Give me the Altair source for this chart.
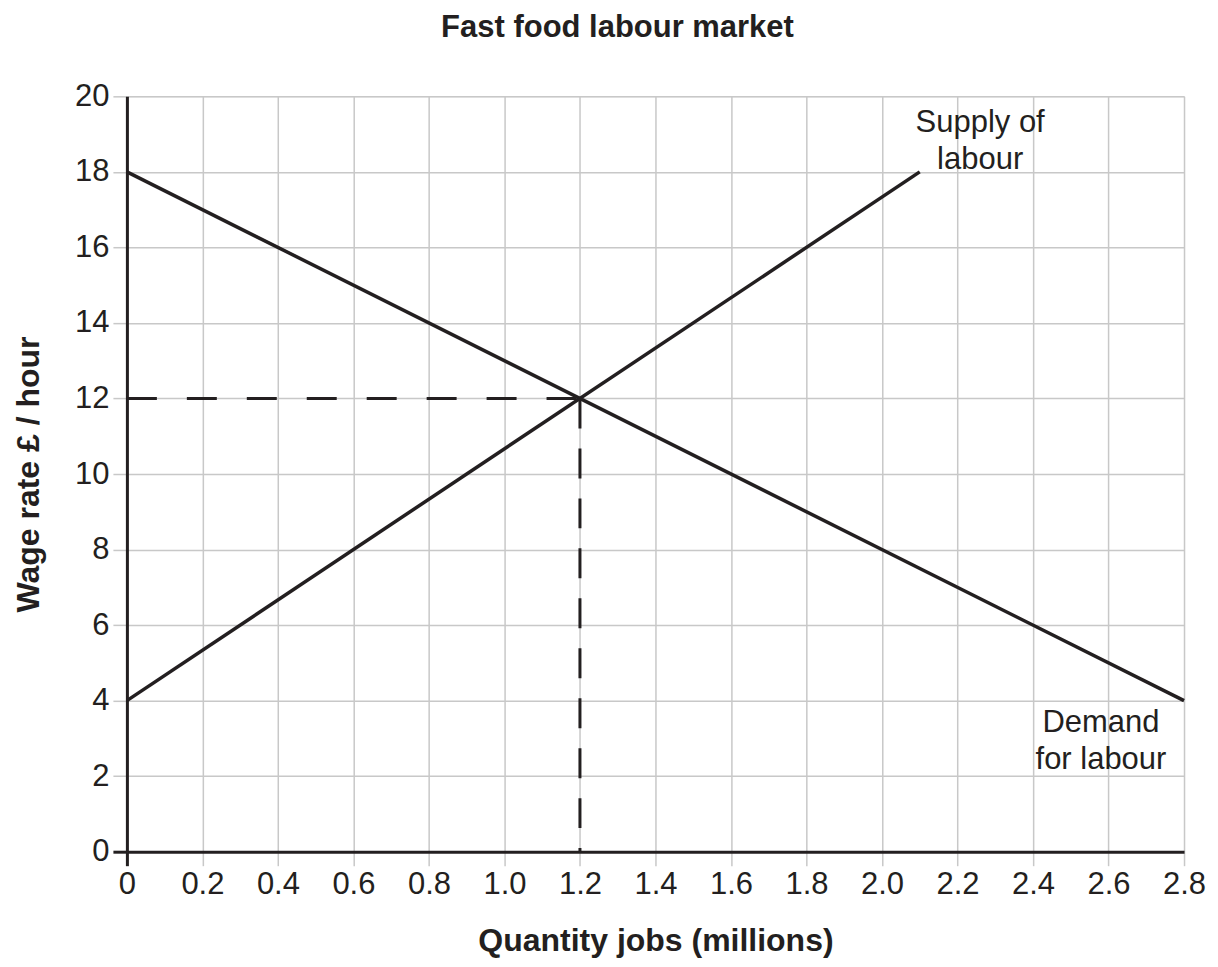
import altair as alt
import pandas as pd

# Data
supply_q = [0.0, 2.1]
supply_w = [4, 18]
demand_q = [0.0, 2.8]
demand_w = [18, 4]
eq_q = 1.2
eq_w = 12
x_ticks = [0, 0.2, 0.4, 0.6, 0.8, 1.0, 1.2, 1.4, 1.6, 1.8, 2.0, 2.2, 2.4, 2.6, 2.8]
y_ticks = [0, 2, 4, 6, 8, 10, 12, 14, 16, 18, 20]
labels = ["Supply of\nlabour", "Demand\nfor labour"]
label_q = [2.26, 2.58]
label_w = [19.05, 3.17]

INK = "#231f20"
GRID = "#c8c8c8"
FONT = "Liberation Sans"

lines_df = pd.DataFrame({
    "q": supply_q + demand_q,
    "w": supply_w + demand_w,
    "curve": ["Supply", "Supply", "Demand", "Demand"],
})
h_df = pd.DataFrame({"q": [0.0], "q2": [eq_q], "w": [eq_w]})
v_df = pd.DataFrame({"q": [eq_q], "w": [0], "w2": [eq_w]})
lab_df = pd.DataFrame({"q": label_q, "w": label_w, "t": labels})

xscale = alt.Scale(domain=[0, 2.8], nice=False, zero=False)
yscale = alt.Scale(domain=[0, 20], nice=False, zero=False)

tick_color = {"condition": {"test": "datum.value === 0", "value": INK}, "value": GRID}
tick_width = {"condition": {"test": "datum.value === 0", "value": 3}, "value": 1.5}

xaxis = alt.Axis(
    values=x_ticks,
    labelExpr="datum.value === 0 ? '0' : format(datum.value, '.1f')",
    title="Quantity jobs (millions)", titleFontWeight="bold", titleFontSize=32,
    titleFont=FONT, titleColor=INK, titlePadding=26,
    labelFont=FONT, labelFontSize=31, labelColor=INK, labelPadding=4,
    labelFlush=False, labelOverlap=False, labelBound=False,
    tickSize=14, tickColor=tick_color, tickWidth=tick_width,
    domainColor=INK, domainWidth=3,
    grid=True, gridColor=GRID, gridWidth=1.5,
)
yaxis = alt.Axis(
    values=y_ticks,
    title="Wage rate £ / hour", titleFontWeight="bold", titleFontSize=32,
    titleFont=FONT, titleColor=INK, titlePadding=29,
    labelFont=FONT, labelFontSize=31, labelColor=INK, labelPadding=4,
    labelFlush=False, labelOverlap=False, labelBound=False,
    tickSize=14, tickColor=tick_color, tickWidth=tick_width,
    domainColor=INK, domainWidth=3,
    grid=True, gridColor=GRID, gridWidth=1.5,
)

base = alt.Chart(lines_df)

curves = base.mark_line(color=INK, strokeWidth=3.5, clip=False).encode(
    x=alt.X("q:Q", scale=xscale, axis=xaxis),
    y=alt.Y("w:Q", scale=yscale, axis=yaxis),
    detail="curve:N",
)

hdash = alt.Chart(h_df).mark_rule(color=INK, strokeWidth=3, strokeDash=[30, 30]).encode(
    x="q:Q", x2="q2:Q", y="w:Q"
)
vdash = alt.Chart(v_df).mark_rule(color=INK, strokeWidth=3, strokeDash=[30, 20]).encode(
    x="q:Q", y="w2:Q", y2="w:Q"
)

texts = alt.Chart(lab_df).mark_text(
    font=FONT, fontSize=31, color=INK, align="center", baseline="alphabetic",
    lineBreak="\n", lineHeight=37,
).encode(x="q:Q", y="w:Q", text="t:N")

chart = alt.layer(hdash, vdash, curves, texts).properties(
    width=1058, height=756,
    title=alt.TitleParams(
        "Fast food labour market", font=FONT, fontSize=31, fontWeight="bold",
        color=INK, anchor="middle", dx=-38, offset=36,
    ),
    autosize=alt.AutoSizeParams(type="none"),
    padding={"left": 119, "top": 88, "right": 26, "bottom": 115},
).configure_view(stroke=None).configure(background="white")

chart.save("out.html", embed_options={"renderer": "svg", "actions": False})
